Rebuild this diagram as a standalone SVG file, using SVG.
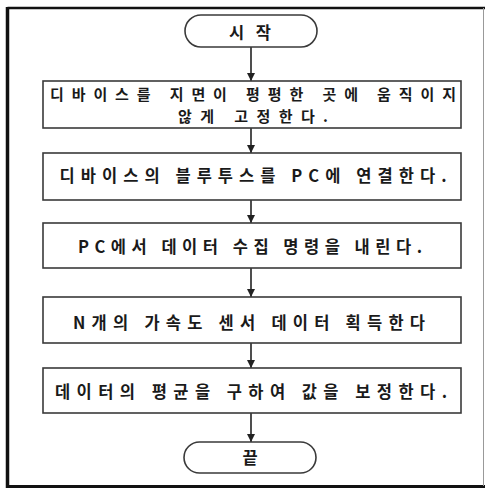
<svg xmlns="http://www.w3.org/2000/svg" width="485" height="489" viewBox="0 0 485 489">
<style>
.box{fill:#fff;stroke:#3a3a3a;stroke-width:1.6}
.term{fill:#fff;stroke:#3a3a3a;stroke-width:1.6}
.t{font-family:"Noto Sans CJK KR","Noto Sans",sans-serif;font-size:16.5px;font-weight:bold;fill:#1a1a1a;text-anchor:middle;dominant-baseline:central}
.s{font-size:15px}
.c{stroke:#222;stroke-width:1.6;fill:none;marker-end:url(#ah)}
</style>
<defs>
<marker id="ah" viewBox="0 0 10 10" refX="10" refY="5" markerWidth="8" markerHeight="8" markerUnits="userSpaceOnUse" orient="auto">
<path d="M0,0 L10,5 L0,10 z" fill="#222"/>
</marker>
</defs>
<rect x="0" y="0" width="485" height="489" fill="#fff"/>
<g id="frame" fill="none" stroke="#111">
<line x1="7.5" y1="8" x2="485" y2="8" stroke-width="2.5"/>
<line x1="7.5" y1="7" x2="7.5" y2="488" stroke-width="3.5"/>
<line x1="6" y1="486.5" x2="485" y2="486.5" stroke-width="3"/>
<line x1="483.5" y1="8" x2="483.5" y2="486" stroke-width="1" stroke="#999"/>
</g>
<g id="connectors">
<line class="c" x1="251" y1="47" x2="251" y2="81"/>
<line class="c" x1="251" y1="128" x2="251" y2="153"/>
<line class="c" x1="251" y1="200" x2="251" y2="223"/>
<line class="c" x1="251" y1="268" x2="251" y2="297"/>
<line class="c" x1="251" y1="343" x2="251" y2="368"/>
<line class="c" x1="251" y1="413" x2="251" y2="442"/>
</g>
<g id="start">
<rect class="term" x="185" y="15" width="132" height="32" rx="16" ry="16"/>
<text class="t" x="250" y="32" textLength="42" lengthAdjust="spacing">시작</text>
</g>
<g id="step1">
<rect class="box" x="43" y="81" width="418" height="47"/>
<text class="t s" x="253" y="93.5" textLength="406" lengthAdjust="spacing">디바이스를 지면이 평평한 곳에 움직이지</text>
<text class="t s" x="253" y="115.5" textLength="150" lengthAdjust="spacing">않게 고정한다.</text>
</g>
<g id="step2">
<rect class="box" x="43" y="153" width="418" height="47"/>
<text class="t" x="253" y="175" textLength="387" lengthAdjust="spacing">디바이스의 블루투스를 PC에 연결한다.</text>
</g>
<g id="step3">
<rect class="box" x="43" y="223" width="418" height="45"/>
<text class="t" x="250" y="246" textLength="344" lengthAdjust="spacing">PC에서 데이터 수집 명령을 내린다.</text>
</g>
<g id="step4">
<rect class="box" x="43" y="297" width="418" height="46"/>
<text class="t" x="249" y="322" textLength="352" lengthAdjust="spacing">N개의 가속도 센서 데이터 획득한다</text>
</g>
<g id="step5">
<rect class="box" x="43" y="368" width="418" height="45"/>
<text class="t" x="251" y="391" textLength="392" lengthAdjust="spacing">데이터의 평균을 구하여 값을 보정한다.</text>
</g>
<g id="end">
<rect class="term" x="184" y="442" width="132" height="31" rx="15.5" ry="15.5"/>
<text class="t" x="250" y="457">끝</text>
</g>
</svg>
